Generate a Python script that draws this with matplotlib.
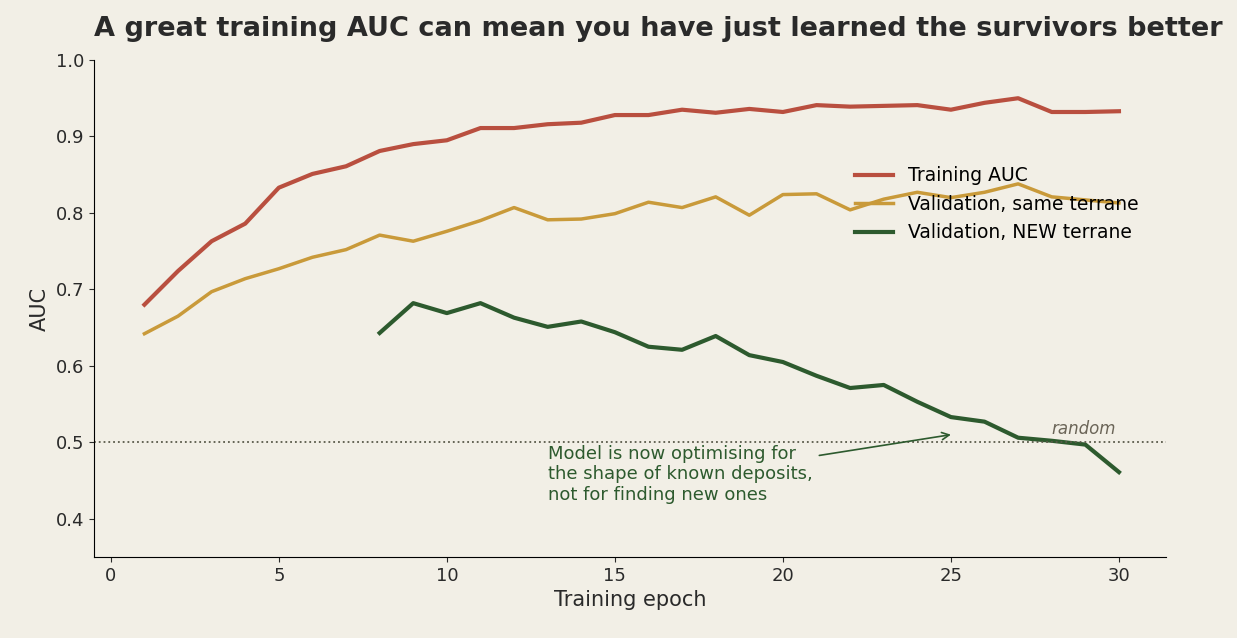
import matplotlib.pyplot as plt
import numpy as np

epochs = list(range(1, 31))
train_auc = [0.680,0.724,0.763,0.786,0.833,0.851,0.861,0.881,0.890,0.895,0.911,0.911,0.916,0.918,0.928,0.928,0.935,0.931,0.936,0.932,0.941,0.939,0.940,0.941,0.935,0.944,0.950,0.932,0.932,0.933]
val_same = [0.642,0.665,0.697,0.714,0.727,0.742,0.752,0.771,0.763,0.776,0.790,0.807,0.791,0.792,0.799,0.814,0.807,0.821,0.797,0.824,0.825,0.804,0.818,0.827,0.820,0.827,0.838,0.821,0.817,0.813]
new_epochs = list(range(8, 31))
val_new = [0.643,0.682,0.669,0.682,0.663,0.651,0.658,0.644,0.625,0.621,0.639,0.614,0.605,0.587,0.571,0.575,0.553,0.533,0.527,0.506,0.502,0.497,0.461]

bg = '#f2efe6'
fig = plt.figure(figsize=(12.37, 6.38), dpi=100, facecolor=bg)
ax = fig.add_axes([94/1237, 1-557/638, (1166-94)/1237, (557-60)/638], facecolor=bg)
ax.plot(epochs, train_auc, color='#b94f3f', lw=3, label='Training AUC')
ax.plot(epochs, val_same, color='#c99a3a', lw=2.5, label='Validation, same terrane')
ax.plot(new_epochs, val_new, color='#2d5a2e', lw=3, label='Validation, NEW terrane')
ax.axhline(0.5, color='#5a5a4a', ls=':', lw=1.3)
ax.text(29.9, 0.505, 'random', ha='right', va='bottom', style='italic', fontsize=12, color='#6b6558')
ax.annotate('Model is now optimising for\nthe shape of known deposits,\nnot for finding new ones',
            xy=(25, 0.51), xytext=(13, 0.497), fontsize=13, color='#2d5a2e', va='top',
            arrowprops=dict(arrowstyle='->', color='#2d5a2e', lw=1.2, shrinkA=3, shrinkB=0,
                            relpos=(1.0, 0.8)))
ax.set_xlim(-0.5, 31.4)
ax.set_ylim(0.35, 1.0)
ax.set_xticks([0, 5, 10, 15, 20, 25, 30])
ax.set_yticks([0.4, 0.5, 0.6, 0.7, 0.8, 0.9, 1.0])
ax.tick_params(labelsize=13, colors='#2a2a2a')
for s in ['top', 'right']:
    ax.spines[s].set_visible(False)
ax.set_xlabel('Training epoch', fontsize=15, color='#2a2a2a')
ax.set_ylabel('AUC', fontsize=15, color='#2a2a2a')
ax.set_title('A great training AUC can mean you have just learned the survivors better',
             fontsize=19.5, fontweight='bold', color='#2a2a2a', loc='left', pad=17)
ax.legend(loc='upper right', bbox_to_anchor=(0.99, 0.82), frameon=False, fontsize=13.5,
          labelspacing=0.5)
fig.savefig('out.png', dpi=100, facecolor=bg)
